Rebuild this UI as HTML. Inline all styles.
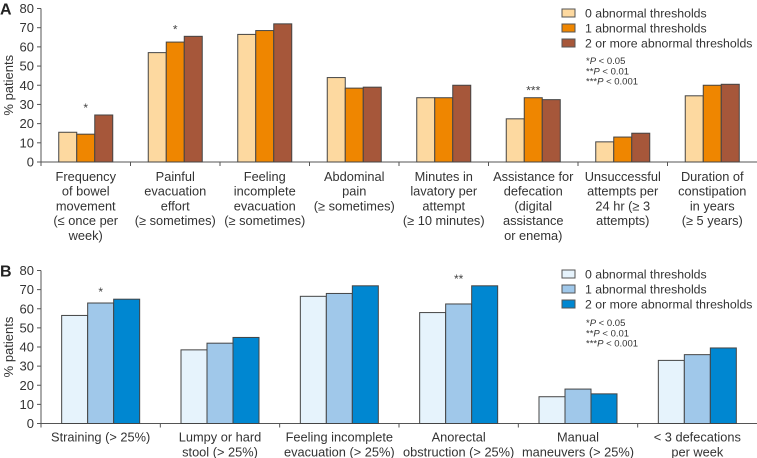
<!DOCTYPE html>
<html><head><meta charset="utf-8"><style>
body{margin:0;background:#fff;}
svg{display:block;font-family:"Liberation Sans",Arial,sans-serif;}
</style></head><body>
<svg id="c" width="757" height="458" viewBox="0 0 757 458"></svg>
<script>
const catsA=[["Frequency","of bowel","movement","(≤ once per","week)"],["Painful","evacuation","effort","(≥ sometimes)"],["Feeling","incomplete","evacuation","(≥ sometimes)"],["Abdominal","pain","(≥ sometimes)"],["Minutes in","lavatory per","attempt","(≥ 10 minutes)"],["Assistance for","defecation","(digital","assistance","or enema)"],["Unsuccessful","attempts per","24 hr (≥ 3","attempts)"],["Duration of","constipation","in years","(≥ 5 years)"]];
const a0=[15.5,57,66.5,44,33.5,22.5,10.5,34.5];
const a1=[14.5,62.5,68.5,38.5,33.5,33.5,13,40];
const a2=[24.5,65.5,72,39,40,32.5,15,40.5];
const sigA=["*","*","","","","***","",""];
const catsB=[["Straining (> 25%)"],["Lumpy or hard","stool (> 25%)"],["Feeling incomplete","evacuation (> 25%)"],["Anorectal","obstruction (> 25%)"],["Manual","maneuvers (> 25%)"],["< 3 defecations","per week"]];
const b0=[56.5,38.5,66.5,58,14,33];
const b1=[63,42,68,62.5,18,36];
const b2=[65,45,72,72,15.5,39.5];
const sigB=["*","","","**","",""];
const yTicks=[0,10,20,30,40,50,60,70,80];
const legendLabels=["0 abnormal thresholds","1 abnormal thresholds","2 or more abnormal thresholds"];
const notes=["*P < 0.05","**P < 0.01","***P < 0.001"];

const svg=document.getElementById('c');
const NS="http://www.w3.org/2000/svg";
function mk(t,at,parent){const e=document.createElementNS(NS,t);for(const k in at)e.setAttribute(k,at[k]);(parent||svg).appendChild(e);return e;}

function panel(o){
  const g=mk('g',{});
  
  
  const y=v=>o.y0-(v/80)*(o.y0-o.y80);
  const gw=(757-o.x0)/o.cats.length;
  const L=mk('text',{x:0,y:o.y80+6,'font-size':16,'font-weight':'bold',fill:'#222'},g);L.textContent=o.letter;
  
  const ax=mk('line',{x1:o.x0,y1:o.y80,x2:o.x0,y2:o.y0,stroke:'#555','stroke-width':1},g);
  
  yTicks.forEach(t=>{
    mk('line',{x1:o.x0-4,x2:o.x0,y1:y(t),y2:y(t),stroke:'#555'},g);
    const tx=mk('text',{x:o.x0-7,y:y(t)+4.5,'text-anchor':'end','font-size':13,fill:'#333'},g);tx.textContent=t;
    
  });
  const yt=mk('text',{x:0,y:0,transform:`translate(13,${(o.y0+o.y80)/2}) rotate(-90)`,'text-anchor':'middle','font-size':13,fill:'#333'},g);
  yt.textContent='% patients';
  const xa=mk('line',{x1:o.x0,x2:757,y1:o.y0,y2:o.y0,stroke:'#555'},g);
  
  o.cats.forEach((c,i)=>{
    const gx=o.x0+i*gw;
    mk('line',{x1:gx,x2:gx,y1:o.y0,y2:o.y0+4,stroke:'#555'},g);
    const bx=gx+(gw-3*o.bw)/2;
    [o.s0,o.s1,o.s2].forEach((s,k)=>{
      const r=mk('rect',{x:bx+k*o.bw,y:y(s[i]),width:o.bw,height:o.y0-y(s[i]),fill:o.colors[k],stroke:'#444','stroke-width':1},g);
      
    });
    if(o.sig[i]){
      const m=Math.max(o.s0[i],o.s1[i],o.s2[i]);
      const st=mk('text',{x:bx+1.5*o.bw,y:y(m)-3,'text-anchor':'middle','font-size':12,fill:'#444'},g);st.textContent=o.sig[i];
      
    }
    c.forEach((ln,j)=>{
      const t=mk('text',{x:gx+gw/2,y:o.labY+j*o.lh,'text-anchor':'middle','font-size':12.8,fill:'#333'},g);t.textContent=ln;
      
    });
  });
  legendLabels.forEach((l,k)=>{
    const r=mk('rect',{x:562,y:o.legY+k*15-4,width:13,height:8,fill:o.colors[k],stroke:'#555'},g);
    
    const t=mk('text',{x:585,y:o.legY+k*15+4.5,'font-size':12.3,fill:'#333'},g);t.textContent=l;
    
  });
  notes.forEach((n,k)=>{
    const t=mk('text',{x:586,y:o.noteY+k*10.3,'font-size':9.5,fill:'#333'},g);
    const stars=n.split('P')[0];
    t.innerHTML=stars+'<tspan font-style="italic">P</tspan>'+n.slice(stars.length+1);
    
  });
}
panel({name:'panel-a',letter:'A',cats:catsA,s0:a0,s1:a1,s2:a2,sig:sigA,x0:41,y0:162,y80:8.5,bw:18,colors:['#fdd9a0','#ef8600','#a6573a'],labY:181,lh:14.7,legY:13,noteY:64});
panel({name:'panel-b',letter:'B',cats:catsB,s0:b0,s1:b1,s2:b2,sig:sigB,x0:41,y0:423.5,y80:270.5,bw:26,colors:['#e6f3fc','#a0c8ea','#0087d1'],labY:441.5,lh:15,legY:274,noteY:326});
</script>
</body></html>
